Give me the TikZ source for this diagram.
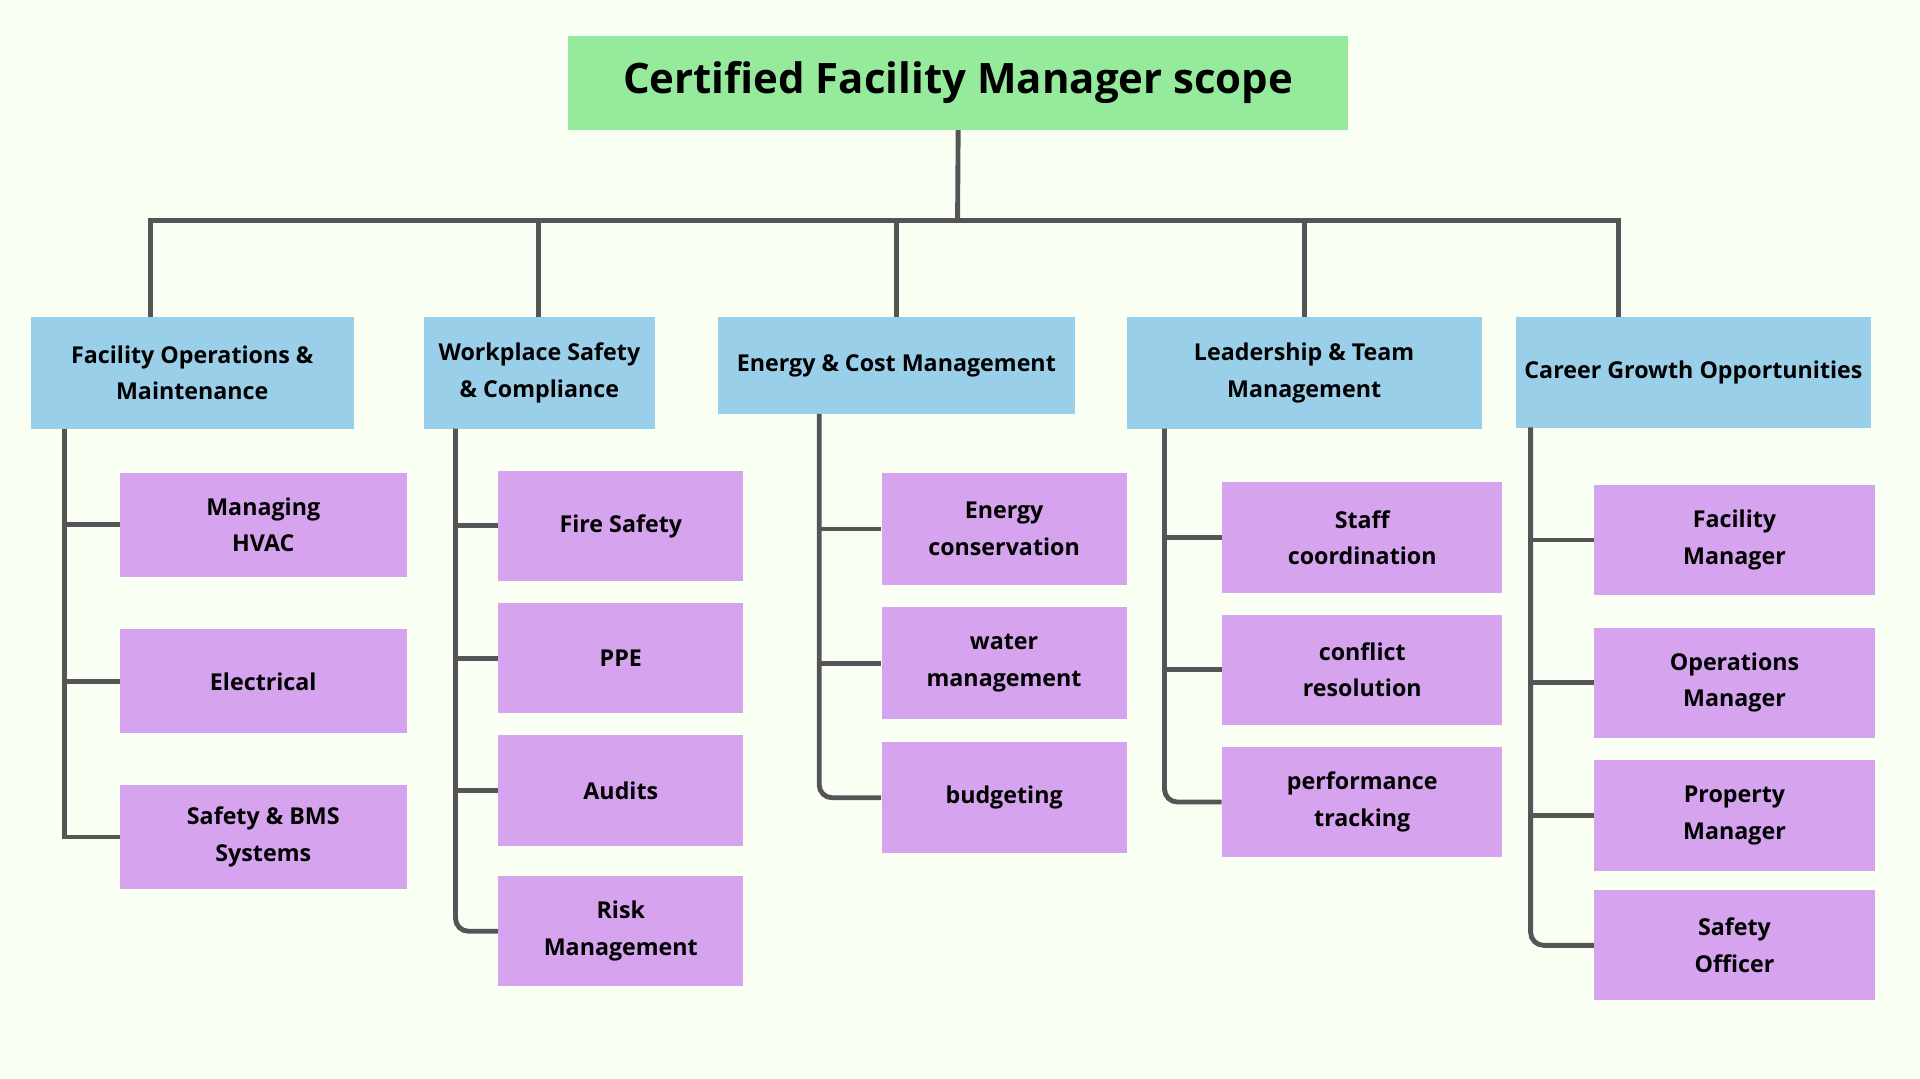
\documentclass[tikz,border=0pt]{standalone}
\usepackage{fontspec}
\setmainfont{Open Sans}
\usetikzlibrary{positioning}
\definecolor{bgcol}{HTML}{FAFFF3}
\definecolor{titlecol}{HTML}{95EA9C}
\definecolor{catcol}{HTML}{9ACFEA}
\definecolor{itemcol}{HTML}{D6A4EE}
\definecolor{linecol}{HTML}{555555}
\tikzstyle{titlebox}=[fill=titlecol,minimum width=637*0.02cm,minimum height=77*0.02cm,font=\fontsize{19.5}{24}\selectfont\bfseries]
\tikzstyle{catbox}=[fill=catcol,minimum height=91*0.02cm,align=center,font=\fontsize{10.8}{17}\selectfont\bfseries]
\tikzstyle{itembox}=[fill=itemcol,minimum height=90*0.02cm,align=center,font=\fontsize{10.8}{17}\selectfont\bfseries]
\tikzstyle{link}=[draw=linecol,line width=4*0.567pt]
\tikzstyle{lastlink}=[link,rounded corners=6pt]

\begin{document}
\begin{tikzpicture}[x=0.02cm,y=-0.02cm]
\fill[bgcol] (0,0) rectangle (1568,881);
\useasboundingbox (0,0) rectangle (1568,881);

\node[titlebox] (title) at (782.5,67.5) {Certified Facility Manager scope};

\node[catbox,minimum width=264*0.02cm] (ops) at (157,304.5) {Facility Operations \&\\Maintenance};
\node[catbox,minimum width=189*0.02cm] (safe) at (440.5,304.5) {Workplace Safety\\\& Compliance};
\node[catbox,minimum width=292*0.02cm,minimum height=79*0.02cm] (energy) at (732,298.5) {Energy \& Cost Management};
\node[catbox,minimum width=290*0.02cm] (lead) at (1065,304.5) {Leadership \& Team\\Management};
\node[catbox,minimum width=290*0.02cm] (career) at (1383,304) {Career Growth Opportunities};

% top tree
\coordinate (hub) at (782,180);
\draw[link] (title.south) -- (hub);
\draw[link] (123,259) |- (1322,180) -- (1322,259);
\draw[link] (440,180) -- (440,259);
\draw[link] (732,180) -- (732,259);
\draw[link] (1065,180) -- (1065,259);

% facility operations
\node[itembox,minimum width=234*0.02cm,minimum height=85*0.02cm] (hvac) at (215,428.5) {Managing\\HVAC};
\node[itembox,minimum width=234*0.02cm,minimum height=85*0.02cm] (elec) at (215,556.5) {Electrical};
\node[itembox,minimum width=234*0.02cm,minimum height=85*0.02cm] (bms) at (215,683.5) {Safety \& BMS\\Systems};
\draw[link] (53,350) |- (bms.west);
\foreach \n in {hvac,elec}
  \draw[link] (53,0 |- \n.west) -- (\n.west);

% workplace safety
\node[itembox,minimum width=200*0.02cm] (fire) at (507,429.5) {Fire Safety};
\node[itembox,minimum width=200*0.02cm] (ppe) at (507,537.5) {PPE};
\node[itembox,minimum width=200*0.02cm] (audit) at (507,645.5) {Audits};
\node[itembox,minimum width=200*0.02cm] (risk) at (507,760.5) {Risk\\Management};
\draw[lastlink] (372,350) |- (risk.west);
\foreach \n in {fire,ppe,audit}
  \draw[link] (372,0 |- \n.west) -- (\n.west);

% energy
\node[itembox,minimum width=200*0.02cm,minimum height=91*0.02cm] (cons) at (820,432) {Energy\\conservation};
\node[itembox,minimum width=200*0.02cm,minimum height=91*0.02cm] (water) at (820,541.5) {water\\management};
\node[itembox,minimum width=200*0.02cm,minimum height=91*0.02cm] (budget) at (820,651.5) {budgeting};
\draw[lastlink] (669,338) |- (budget.west);
\foreach \n in {cons,water}
  \draw[link] (669,0 |- \n.west) -- (\n.west);

% leadership
\node[itembox,minimum width=229*0.02cm] (staff) at (1112.5,439) {Staff\\coordination};
\node[itembox,minimum width=229*0.02cm] (conflict) at (1112.5,547) {conflict\\resolution};
\node[itembox,minimum width=229*0.02cm] (perf) at (1112.5,655) {performance\\tracking};
\draw[lastlink] (951,350) |- (perf.west);
\foreach \n in {staff,conflict}
  \draw[link] (951,0 |- \n.west) -- (\n.west);

% career
\node[itembox,minimum width=229*0.02cm] (fm) at (1416.5,441) {Facility\\Manager};
\node[itembox,minimum width=229*0.02cm] (om) at (1416.5,557.5) {Operations\\Manager};
\node[itembox,minimum width=229*0.02cm] (pm) at (1416.5,666) {Property\\Manager};
\node[itembox,minimum width=229*0.02cm] (so) at (1416.5,772) {Safety\\Officer};
\draw[lastlink] (1250,349) |- (so.west);
\foreach \n in {fm,om,pm}
  \draw[link] (1250,0 |- \n.west) -- (\n.west);
\end{tikzpicture}
\end{document}
